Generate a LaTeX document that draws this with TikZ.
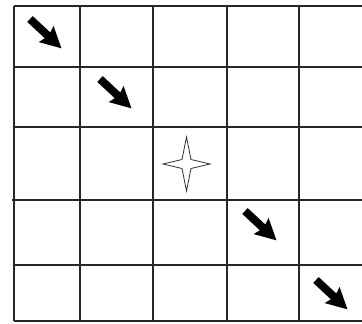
\documentclass[tikz,border=0pt]{standalone}
\begin{document}
\begin{tikzpicture}[x=0.03cm, y=-0.03cm, line join=miter]
		% Khung ảnh
		\useasboundingbox (0,0) rectangle (362,323);
		
		% Các đường ngang của lưới
		\foreach \y in {6,67,127,265,321}
		\draw[line width=1.6pt, black!85] (14,\y) -- (362,\y);
		\draw[line width=1.6pt, black!85] (12,200) -- (362,200);
		
		% Các đường dọc của lưới
		\foreach \x in {14,80,153,227,299}
		\draw[line width=1.6pt, black!85] (\x,6) -- (\x,321);
		
		% Mũi tên chéo
		\newcommand{\muiten}[1]{\fill[black, shift={#1}, rotate=-43]
			(0,-4) -- (24,-4) -- (22,-11) -- (43,0) -- (22,11) -- (24,4) -- (0,4) -- cycle;}
		\muiten{(30,19)}
		\muiten{(100,79)}
		\muiten{(245,211)}
		\muiten{(316,280)}
		
		% Ngôi sao bốn cánh
		\filldraw[fill=white, draw=black!80, line width=0.7pt]
			(186.5,137) -- (191,159.5) -- (210,164) -- (191,168.5) -- (186.5,191)
			-- (182,168.5) -- (163,164) -- (182,159.5) -- cycle;
\end{tikzpicture}
\end{document}
